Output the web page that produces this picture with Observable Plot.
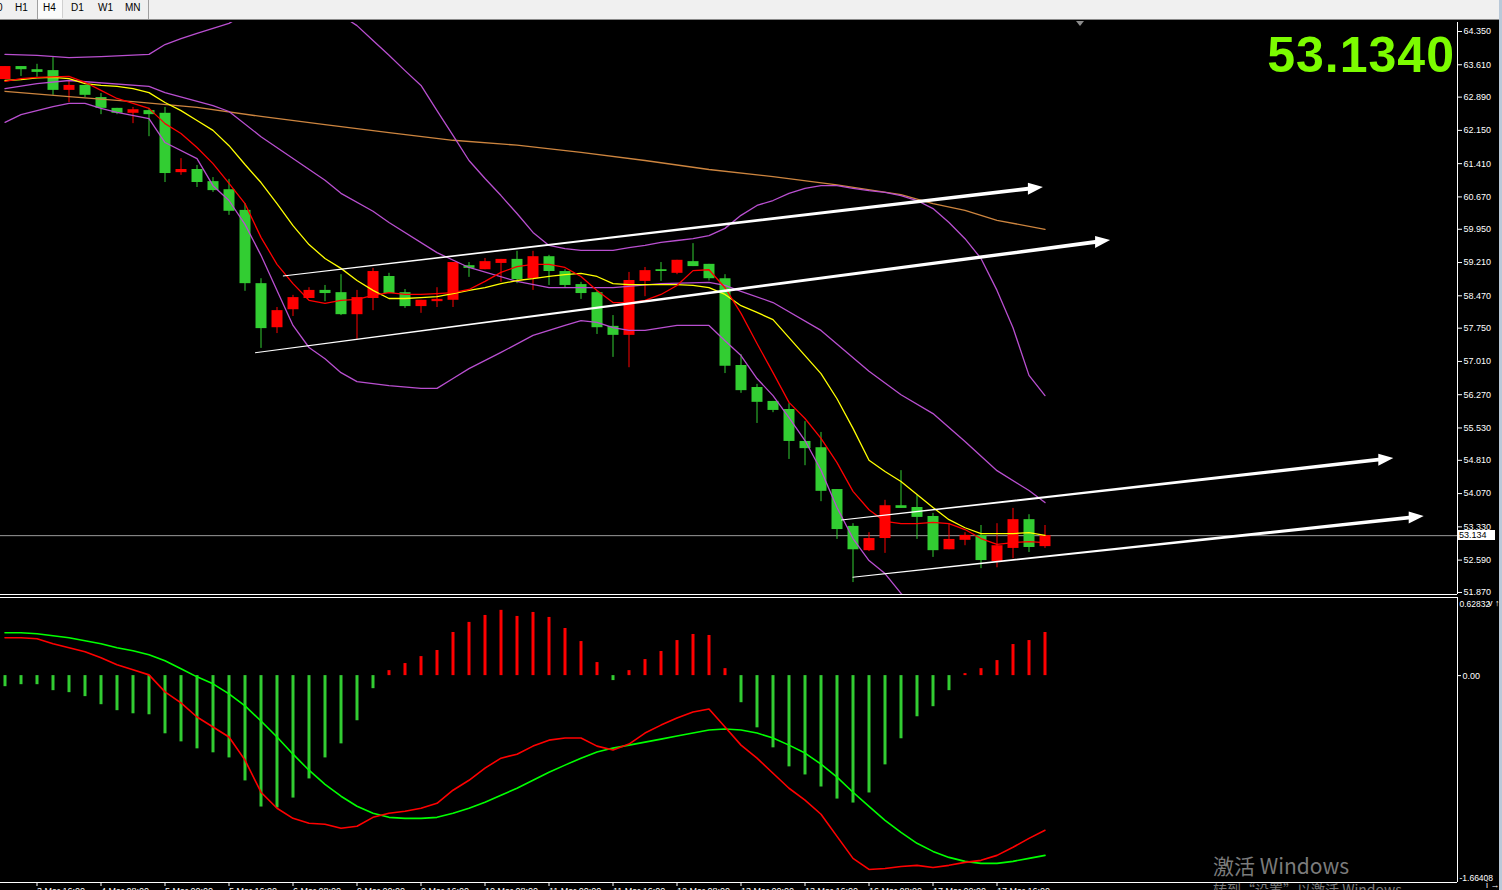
<!DOCTYPE html>
<html><head><meta charset="utf-8">
<script src="https://cdn.jsdelivr.net/npm/d3@7"></script>
<script src="https://cdn.jsdelivr.net/npm/@observablehq/plot@0.6"></script>
<style>
html,body{margin:0;padding:0;background:#000;width:1502px;height:890px;overflow:hidden;font-family:"Liberation Sans",Arial,sans-serif;}
#toolbar{position:absolute;left:0;top:0;width:1502px;height:19px;background:#f0f0f0;border-bottom:1px solid #8a8a8a;}
#toolbar span{position:absolute;top:2px;font-size:10px;color:#000;}
#toolbar .sep{position:absolute;top:0;width:1px;height:19px;background:#a0a0a0;}
#toolbar .on{position:absolute;left:38px;top:0;width:24px;height:18px;background:#fbfbfb;border-right:1px solid #d0d0d0;}
#price,#macd{position:absolute;left:0;}
#price{top:20px;} #macd{top:596px;}
#big{position:absolute;right:47px;top:30px;font:bold 50px "Liberation Sans",Arial,sans-serif;color:#7cfc00;line-height:1;letter-spacing:1px;}
#pbox{position:absolute;left:1458px;width:36px;height:10px;background:#fff;color:#000;font-size:9px;line-height:10px;padding-left:1px;}
#frameR{position:absolute;left:1499px;top:0;width:3px;height:890px;background:#b9c9d9;}
#shift{position:absolute;left:1076px;top:21px;width:0;height:0;border-left:4px solid transparent;border-right:4px solid transparent;border-top:5px solid #8c8c8c;}
#wm1{position:absolute;left:1213px;top:850px;font:21px "Noto Sans CJK SC",sans-serif;color:#7b7b7b;}
#wm2{position:absolute;left:1213px;top:879px;font:14px "Noto Sans CJK SC",sans-serif;color:#7b7b7b;}
</style></head><body>
<div id="toolbar">
  <span style="left:-3px">0</span><span style="left:15px">H1</span>
  <div class="sep" style="left:37px"></div><div class="on"></div>
  <span style="left:43px">H4</span><span style="left:71px">D1</span><span style="left:98px">W1</span><span style="left:125px">MN</span>
  <div class="sep" style="left:148px"></div>
</div>
<div id="price"></div>
<div id="macd"></div>
<div id="shift"></div>
<div id="big">53.1340</div>
<div id="wm1">激活 Windows</div>
<div id="wm2">转到“设置”以激活 Windows。</div>
<div id="pbox"></div>
<div id="frameR"></div>
<script>
// ---- price data (H4 candles) ----
const open = [63.28,63.57,63.50,63.48,63.04,63.15,62.88,62.64,62.53,62.59,
62.53,61.21,61.28,61.01,60.83,60.37,58.74,57.76,58.16,58.41,
58.59,58.54,58.05,58.41,58.90,58.54,58.23,58.34,58.37,59.14,
59.05,59.19,59.28,58.85,59.34,59.01,58.72,58.54,57.79,57.59,
58.79,59.05,58.97,59.23,59.17,58.85,56.92,56.43,56.12,55.94,
55.23,55.09,54.16,53.34,52.80,53.07,53.80,53.76,53.56,52.82,
53.03,53.14,52.56,52.85,53.49,52.89];
const high = [63.57,63.57,63.62,63.77,63.26,63.15,62.97,62.64,62.66,62.64,
62.66,61.52,61.37,61.10,61.06,60.52,58.85,58.21,58.48,58.65,
58.70,58.94,58.59,59.08,58.97,58.61,58.37,58.65,59.21,59.21,
59.30,59.28,59.46,59.46,59.37,59.05,58.77,58.57,58.03,58.99,
59.10,59.21,59.26,59.63,59.17,58.94,57.16,56.50,56.12,56.07,
55.67,55.43,54.16,53.40,53.20,53.92,54.58,54.03,53.63,53.40,
53.20,53.36,53.40,53.74,53.60,53.36];
const low = [63.28,63.35,63.33,62.93,62.77,62.88,62.50,62.50,62.30,62.01,
60.99,61.15,60.88,60.77,60.26,58.57,57.30,57.63,58.01,58.41,
58.34,58.03,57.50,58.14,58.52,58.19,58.08,58.21,58.21,58.88,
59.05,58.77,58.74,58.59,58.70,58.65,58.39,57.61,57.10,56.87,
58.45,58.79,58.94,59.12,58.80,56.74,56.30,55.63,55.87,54.83,
54.69,53.89,53.05,52.09,52.78,52.74,53.74,53.05,52.65,52.82,
52.91,52.40,52.42,52.62,52.76,52.85];
const close = [63.57,63.50,63.44,63.04,63.15,62.93,62.64,62.53,62.61,62.50,
61.19,61.28,60.99,60.81,60.35,58.74,57.74,58.14,58.43,58.59,
58.52,58.05,58.43,59.01,58.52,58.23,58.37,58.39,59.21,59.08,
59.23,59.28,58.83,59.34,59.01,58.70,58.52,57.76,57.59,58.81,
59.03,59.01,59.26,59.12,58.85,56.90,56.36,56.10,55.92,55.23,
55.07,54.12,53.27,52.82,53.07,53.80,53.74,53.54,52.80,53.05,
53.14,52.58,52.91,53.49,52.87,53.134];
// fast MA (red) and slow MA (yellow), one value per candle
const maFast = [63.24,63.30,63.33,63.34,63.35,63.22,63.04,62.86,62.75,62.64,
62.30,62.08,61.77,61.41,60.97,60.52,59.77,59.17,58.74,58.37,
58.30,58.37,58.39,58.48,58.54,58.50,58.50,58.52,58.54,58.61,
58.79,58.99,59.12,59.17,59.17,59.10,58.90,58.59,58.32,58.32,
58.37,58.50,58.70,59.03,59.05,58.65,58.08,57.41,56.76,56.10,
55.74,55.30,54.76,54.12,53.71,53.45,53.40,53.40,53.43,53.40,
53.27,53.07,52.94,52.98,53.00,52.98];
const maSlow = [63.26,63.28,63.32,63.33,63.30,63.19,63.15,63.13,63.08,62.99,
62.77,62.59,62.37,62.15,61.81,61.39,60.99,60.52,60.03,59.61,
59.30,59.08,58.81,58.59,58.41,58.41,58.43,58.45,58.52,58.59,
58.65,58.74,58.81,58.85,58.90,58.94,58.97,58.90,58.74,58.72,
58.72,58.72,58.72,58.70,58.65,58.50,58.25,58.10,57.94,57.54,
57.14,56.74,56.18,55.52,54.81,54.56,54.34,54.05,53.76,53.49,
53.31,53.18,53.18,53.18,53.20,53.14];
// long MA (orange) and Bollinger bands: [bar index, price]
const maLong = [[0,63.02],[4,62.90],[8,62.79],[12,62.66],[16,62.46],[20,62.28],[24,62.10],[28,61.93],[32,61.82],[36,61.66],[40,61.48],[44,61.28],[48,61.12],[52,60.94],[56,60.72],[58,60.52],[60,60.37],[62,60.15],[65,59.95]];
const bbUpper = [[0,63.84],[2,63.82],[4,63.77],[6,63.79],[9,63.84],[10,64.06],[11,64.19],[12,64.31],[13,64.42],[14,64.53],[16,64.95],[18,65.10],[20,64.95],[22,64.48],[23,64.15],[24,63.82],[25,63.48],[26,63.15],[27,62.59],[28,62.04],[29,61.48],[30,61.08],[31,60.70],[32,60.30],[33,59.88],[34,59.59],[35,59.52],[36,59.48],[38,59.48],[39,59.54],[40,59.59],[41,59.66],[42,59.70],[43,59.74],[44,59.81],[45,59.97],[46,60.26],[47,60.48],[48,60.59],[49,60.75],[50,60.86],[51,60.92],[52,60.92],[53,60.86],[54,60.81],[55,60.77],[56,60.70],[57,60.59],[58,60.41],[59,60.10],[60,59.74],[61,59.30],[62,58.59],[63,57.76],[64,56.70],[65,56.25]];
const bbMiddle = [[0,63.08],[2,63.19],[4,63.26],[9,63.13],[10,62.99],[13,62.70],[14,62.57],[16,62.01],[20,61.04],[21,60.75],[23,60.35],[24,60.10],[27,59.43],[29,59.10],[32,58.79],[34,58.65],[38,58.65],[41,58.74],[44,58.77],[45,58.70],[46,58.57],[48,58.32],[51,57.70],[54,56.79],[56,56.27],[58,55.85],[60,55.23],[62,54.58],[64,54.14],[65,53.87]];
const bbLower = [[0,62.33],[1,62.50],[3,62.68],[4,62.75],[5,62.75],[6,62.64],[7,62.55],[9,62.41],[10,61.88],[12,61.52],[13,60.92],[14,60.59],[15,60.06],[16,59.37],[17,58.59],[18,57.81],[19,57.32],[20,57.07],[21,56.76],[22,56.56],[24,56.47],[26,56.41],[27,56.41],[28,56.63],[29,56.85],[31,57.21],[33,57.59],[35,57.81],[36,57.92],[37,57.88],[38,57.76],[39,57.70],[40,57.70],[42,57.81],[44,57.81],[45,57.47],[46,57.14],[47,56.63],[48,56.25],[49,55.76],[50,55.25],[51,54.59],[52,53.76],[53,53.07],[54,52.58],[55,52.29],[56,51.85],[57,51.47]];
// hand-drawn trend arrows: start/end (bar index, price)
const trendStartIdx = [17.4, 15.66, 52.3, 53.0];
const trendStartPrice = [58.90, 57.19, 53.47, 52.20];
const trendEndIdx = [64.9, 69.1, 86.8, 88.7];
const trendEndPrice = [60.88, 59.70, 54.85, 53.56];
const lastPrice = 53.134;
const priceTicks = [64.35,63.61,62.89,62.15,61.41,60.67,59.95,59.21,58.47,57.75,57.01,56.27,55.53,54.81,54.07,53.33,52.59,51.87];
// ---- MACD ----
const macdHist = [-0.089,-0.073,-0.073,-0.121,-0.137,-0.169,-0.234,-0.282,-0.307,-0.315,
-0.468,-0.533,-0.589,-0.621,-0.662,-0.847,-1.057,-1.065,-0.985,-0.831,
-0.662,-0.549,-0.363,-0.105,0.040,0.097,0.153,0.202,0.347,0.428,
0.484,0.525,0.476,0.508,0.468,0.379,0.274,0.105,-0.040,0.040,
0.129,0.194,0.282,0.331,0.323,0.056,-0.218,-0.420,-0.581,-0.734,
-0.799,-0.896,-0.993,-1.025,-0.944,-0.718,-0.508,-0.331,-0.250,-0.121,
0.016,0.056,0.121,0.250,0.282,0.347];
const macdMain = [0.305,0.305,0.297,0.257,0.224,0.192,0.144,0.087,0.047,0.006,
-0.131,-0.220,-0.333,-0.413,-0.494,-0.680,-0.938,-1.067,-1.148,-1.188,
-1.196,-1.228,-1.212,-1.140,-1.107,-1.091,-1.067,-1.027,-0.922,-0.842,
-0.744,-0.664,-0.632,-0.567,-0.519,-0.502,-0.502,-0.567,-0.599,-0.551,
-0.462,-0.398,-0.341,-0.293,-0.268,-0.413,-0.559,-0.664,-0.785,-0.906,
-1.002,-1.115,-1.293,-1.470,-1.559,-1.551,-1.535,-1.526,-1.543,-1.526,
-1.502,-1.486,-1.446,-1.381,-1.309,-1.244];
const macdSignal = [0.345,0.345,0.337,0.321,0.305,0.281,0.257,0.224,0.200,0.168,
0.119,0.055,-0.010,-0.066,-0.147,-0.244,-0.365,-0.494,-0.632,-0.761,
-0.874,-0.970,-1.051,-1.107,-1.140,-1.148,-1.148,-1.140,-1.107,-1.067,
-1.019,-0.962,-0.906,-0.841,-0.777,-0.720,-0.664,-0.615,-0.583,-0.559,
-0.535,-0.511,-0.486,-0.462,-0.438,-0.430,-0.438,-0.462,-0.502,-0.559,
-0.623,-0.712,-0.817,-0.938,-1.051,-1.164,-1.261,-1.349,-1.414,-1.462,
-1.494,-1.510,-1.510,-1.494,-1.470,-1.446];
const macdMax = 0.62832, macdMin = -1.66408;
const timeTickIdx = [2,6,10,14,18,22,26,30,34,38,42,46,50,54,58,62];
const timeTickLabels = ["3 Mar 16:00","4 Mar 08:00","5 Mar 00:00","5 Mar 16:00","6 Mar 08:00","9 Mar 00:00","9 Mar 16:00","10 Mar 08:00","11 Mar 00:00","11 Mar 16:00","12 Mar 08:00","13 Mar 00:00","13 Mar 16:00","16 Mar 08:00","17 Mar 00:00","17 Mar 16:00"];

// ---- layout ----
const W = 1502, PLOT_R = 45;
const xDomain = [-0.28125, 90.78125];
const yDomain = [51.825, 64.55];
const PRICE_H = 576, P_MT = 2, P_MB = 2;
const font = {background:"#000", color:"#fff", fontFamily:"Liberation Sans, Arial, sans-serif", fontSize:"9px", overflow:"visible"};

const bars = open.map((o, i) => ({i, o, h: high[i], l: low[i], c: close[i], col: close[i] > o ? "#ff0000" : "#32cd32"}));
const perBar = (arr) => arr.map((v, i) => ({i, v}));
const pairs = (arr) => arr.map(([i, v]) => ({i, v}));

// arrow polygons (tapered shaft + head), sizes in px converted to data units
const pxPerBar = (W - PLOT_R) / (xDomain[1] - xDomain[0]);
const pxPerPrice = (PRICE_H - P_MT - P_MB) / (yDomain[1] - yDomain[0]);
const arrowRows = [];
trendStartIdx.forEach((x0, k) => {
  const y0 = trendStartPrice[k], x1 = trendEndIdx[k], y1 = trendEndPrice[k];
  const s = (y1 - y0) / (x1 - x0);
  const xb = x1 - 15 / pxPerBar, yb = y0 + s * (xb - x0);
  const w0 = 0.5 / pxPerPrice, w1 = 1.9 / pxPerPrice, hw = 6 / pxPerPrice;
  arrowRows.push({k, x: x0, lo: y0 - w0, hi: y0 + w0});
  arrowRows.push({k, x: xb, lo: yb - w1, hi: yb + w1});
  arrowRows.push({k, x: xb, lo: yb - hw, hi: yb + hw});
  arrowRows.push({k, x: x1, lo: y1, hi: y1});
});

const lineOpts = (stroke) => ({x: "i", y: "v", stroke, strokeWidth: 1.3, clip: true});

const price = Plot.plot({
  width: W, height: PRICE_H, marginLeft: 0, marginRight: PLOT_R, marginTop: P_MT, marginBottom: P_MB,
  style: font,
  x: {domain: xDomain, axis: null},
  y: {domain: yDomain, axis: null},
  marks: [
    Plot.ruleY([lastPrice], {stroke: "#9c9c9c", strokeWidth: 1}),
    Plot.ruleX(bars, {x: "i", y1: "l", y2: "h", stroke: "col", strokeWidth: 1, clip: true}),
    Plot.ruleX(bars, {x: "i", y1: "o", y2: "c", stroke: "col", strokeWidth: 11, clip: true}),
    Plot.line(pairs(maLong), lineOpts("#cd853f")),
    Plot.line(pairs(bbUpper), lineOpts("#b94fd0")),
    Plot.line(pairs(bbMiddle), lineOpts("#b94fd0")),
    Plot.line(pairs(bbLower), lineOpts("#b94fd0")),
    Plot.line(perBar(maSlow), lineOpts("#ffff00")),
    Plot.line(perBar(maFast), lineOpts("#ff0000")),
    Plot.areaY(arrowRows, {x: "x", y1: "lo", y2: "hi", z: "k", fill: "#ffffff", curve: "linear", clip: true}),
    Plot.axisY(priceTicks, {anchor: "right", tickSize: 4, tickPadding: 2, stroke: "#fff", fill: "#fff", tickFormat: d => d.toFixed(3)}),
    Plot.ruleX([xDomain[1]], {stroke: "#fff", strokeWidth: 1}),
    Plot.ruleY([yDomain[0]], {stroke: "#fff", strokeWidth: 1})
  ]
});
document.getElementById("price").appendChild(price);

const pb = document.getElementById("pbox");
pb.textContent = lastPrice.toFixed(3);
pb.style.top = (20 + price.scale("y").apply(lastPrice) - 5) + "px";

const macd = Plot.plot({
  width: W, height: 294, marginLeft: 0, marginRight: PLOT_R, marginTop: 1, marginBottom: 8,
  style: font,
  x: {domain: xDomain, axis: null},
  y: {domain: [macdMin, macdMax], axis: null},
  marks: [
    Plot.ruleX(perBar(macdHist), {x: "i", y1: 0, y2: "v", stroke: d => d.v >= 0 ? "#ff0000" : "#32cd32", strokeWidth: 3}),
    Plot.line(perBar(macdSignal), {x: "i", y: "v", stroke: "#00ff00", strokeWidth: 1.6}),
    Plot.line(perBar(macdMain), {x: "i", y: "v", stroke: "#ff0000", strokeWidth: 1.6}),
    Plot.ruleX([xDomain[1]], {stroke: "#fff"}),
    Plot.ruleY([macdMin], {stroke: "#fff"}),
    Plot.ruleY([macdMax], {stroke: "#fff"}),
    Plot.axisY([0], {anchor: "right", tickSize: 3, tickPadding: 2, stroke: "#fff", fill: "#fff", tickFormat: d => d.toFixed(2)}),
    Plot.text([macdMax], {x: xDomain[1], y: d => d, text: d => d.toFixed(5), dx: 2, dy: 3, fontSize: 8.5, textAnchor: "start", lineAnchor: "top", fill: "#fff"}),
    Plot.text([macdMin], {x: xDomain[1], y: d => d, text: d => d.toFixed(5), dx: 2, dy: -2, fontSize: 8.5, textAnchor: "start", lineAnchor: "bottom", fill: "#fff"}),
    Plot.axisX(timeTickIdx, {anchor: "bottom", tickSize: 4, tickPadding: 1, stroke: "#fff", fill: "#fff", textAnchor: "start", dx: 0, tickFormat: d => timeTickLabels[timeTickIdx.indexOf(d)]})
  ]
});
document.getElementById("macd").appendChild(macd);
</script>
</body></html>
